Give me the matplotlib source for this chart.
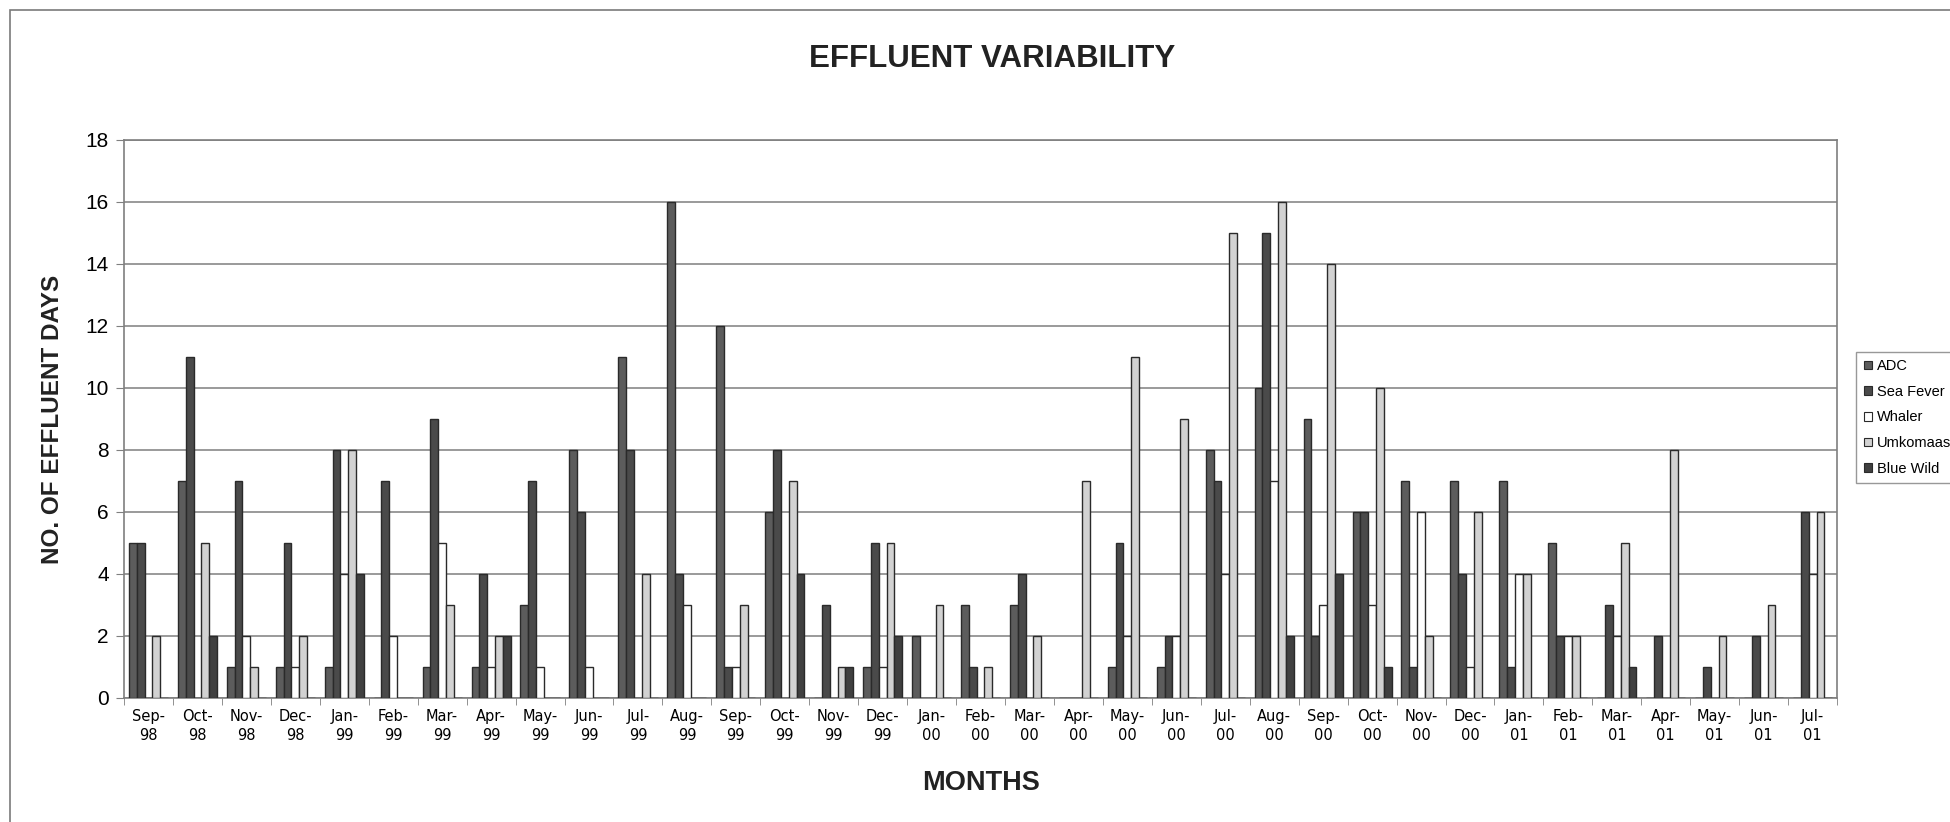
import numpy as np
import matplotlib.pyplot as plt
from matplotlib.patches import Rectangle

plt.rcParams.update({
    "font.family": ["Liberation Sans", "DejaVu Sans"],
})

MONTHS = [
    "Sep-\n98", "Oct-\n98", "Nov-\n98", "Dec-\n98", "Jan-\n99", "Feb-\n99",
    "Mar-\n99", "Apr-\n99", "May-\n99", "Jun-\n99", "Jul-\n99", "Aug-\n99",
    "Sep-\n99", "Oct-\n99", "Nov-\n99", "Dec-\n99", "Jan-\n00", "Feb-\n00",
    "Mar-\n00", "Apr-\n00", "May-\n00", "Jun-\n00", "Jul-\n00", "Aug-\n00",
    "Sep-\n00", "Oct-\n00", "Nov-\n00", "Dec-\n00", "Jan-\n01", "Feb-\n01",
    "Mar-\n01", "Apr-\n01", "May-\n01", "Jun-\n01", "Jul-\n01",
]

ADC = [5, 7, 1, 1, 1, 0, 1, 1, 3, 8, 11, 16,
       12, 6, 0, 1, 2, 3, 3, 0, 1, 1, 8, 10,
       9, 6, 7, 7, 7, 5, 0, 0, 0, 0, 0]
SEA_FEVER = [5, 11, 7, 5, 8, 7, 9, 4, 7, 6, 8, 4,
             1, 8, 3, 5, 0, 1, 4, 0, 5, 2, 7, 15,
             2, 6, 1, 4, 1, 2, 3, 2, 1, 2, 6]
WHALER = [0, 0, 2, 1, 4, 2, 5, 1, 1, 1, 0, 3,
          1, 0, 0, 1, 0, 0, 0, 0, 2, 2, 4, 7,
          3, 3, 6, 1, 4, 2, 2, 0, 0, 0, 4]
UMKOMAAS = [2, 5, 1, 2, 8, 0, 3, 2, 0, 0, 4, 0,
            3, 7, 1, 5, 3, 1, 2, 7, 11, 9, 15, 16,
            14, 10, 2, 6, 4, 2, 5, 8, 2, 3, 6]
BLUE_WILD = [0, 2, 0, 0, 4, 0, 0, 2, 0, 0, 0, 0,
             0, 4, 1, 2, 0, 0, 0, 0, 0, 0, 0, 2,
             4, 1, 0, 0, 0, 0, 1, 0, 0, 0, 0]

SERIES_NAMES = ["ADC", "Sea Fever", "Whaler", "Umkomaas", "Blue Wild"]
SERIES = [ADC, SEA_FEVER, WHALER, UMKOMAAS, BLUE_WILD]
COLORS = ["#5c5c5c", "#4a4a4a", "#ffffff", "#d2d2d2", "#404040"]

fig = plt.figure(figsize=(19.5, 8.22), dpi=100)
ax = fig.add_axes([0.0636, 0.1509, 0.8785, 0.6788])

# outer chart border (runs off the right and bottom edges)
fig.patches.append(Rectangle((0.005, -0.05), 1.2, 1.038, transform=fig.transFigure,
                             fill=False, edgecolor="#7a7a7a", linewidth=1.2))

x = np.arange(len(MONTHS))
width = 0.16
for j, (name, vals, col) in enumerate(zip(SERIES_NAMES, SERIES, COLORS)):
    ax.bar(x + (j - 2) * width, vals, width, color=col, edgecolor="#2a2a2a",
           linewidth=1.0, label=name, zorder=3)

ax.set_xlim(-0.5, len(MONTHS) - 0.5)
ax.set_ylim(0, 18)
ax.set_yticks(np.arange(0, 19, 2))
ax.yaxis.grid(True, color="#7f7f7f", linewidth=1.1, zorder=0)

ax.set_xticks(x)
ax.set_xticklabels(MONTHS, fontsize=10.5, family="DejaVu Sans", linespacing=1.35)
ax.set_xticks(np.arange(-0.5, len(MONTHS)), minor=True)
ax.tick_params(axis="x", which="major", length=0, pad=8)
ax.tick_params(axis="x", which="minor", length=5, color="#7f7f7f")
ax.tick_params(axis="y", length=6, color="#7f7f7f", labelsize=15, pad=5)

for s in ax.spines.values():
    s.set_color("#7f7f7f")
    s.set_linewidth(1.2)

fig.text(0.509, 0.928, "EFFLUENT VARIABILITY", ha="center", va="center",
         fontsize=22.5, fontweight="bold", color="#222222")
fig.text(0.027, 0.49, "NO. OF EFFLUENT DAYS", ha="center", va="center",
         rotation=90, fontsize=17.5, fontweight="bold", color="#222222")
fig.text(0.503, 0.047, "MONTHS", ha="center", va="center",
         fontsize=19.5, fontweight="bold", color="#222222")

leg = fig.legend(loc="upper left", bbox_to_anchor=(0.952, 0.572),
                 fontsize=10.5, frameon=True, fancybox=False,
                 handlelength=0.55, handleheight=0.55, handletextpad=0.35,
                 labelspacing=0.8, borderpad=0.5, borderaxespad=0)
leg.get_frame().set_edgecolor("#7f7f7f")
leg.get_frame().set_linewidth(1.0)
for h in leg.legend_handles:
    h.set_linewidth(0.8)

fig.savefig("out.png", dpi=100)
